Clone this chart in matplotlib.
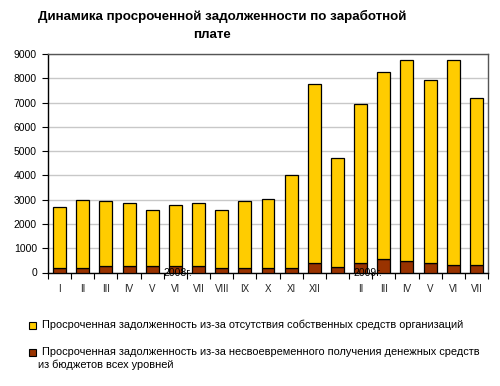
import matplotlib
matplotlib.use("Agg")
import matplotlib.pyplot as plt
import numpy as np

plt.rcParams['font.family'] = ['Liberation Sans', 'DejaVu Sans']

months = ["I", "II", "III", "IV", "V", "VI", "VII", "VIII", "IX", "X", "XI", "XII",
          "", "II", "III", "IV", "V", "VI", "VII"]
totals = [2700, 3000, 2930, 2880, 2590, 2790, 2850, 2590, 2930, 3020, 4000, 7780,
          4700, 6960, 8260, 8750, 7920, 8750, 7200]
budget = [190, 190, 250, 260, 260, 250, 260, 165, 165, 190, 190, 410,
          230, 410, 550, 490, 410, 300, 300]
own = [t - b for t, b in zip(totals, budget)]
years = ["2008г.", "2009г."]
year_pos = [5.1, 13.3]
title = "Динамика просроченной задолженности по заработной\nплате"
legend_labels = ["Просроченная задолженность из-за отсутствия собственных средств организаций",
                 "Просроченная задолженность из-за несвоевременного получения денежных средств\nиз бюджетов всех уровней"]

W, H = 500, 386
fig = plt.figure(figsize=(W / 100, H / 100), dpi=100)
ax = fig.add_axes([48 / W, 1 - 272.5 / H, 440 / W, 218.5 / H])

x = np.arange(len(months))
yellow = "#FFCC00"
brown = "#993300"
ax.bar(x, budget, width=0.56, color=brown, edgecolor="black", linewidth=0.9, zorder=3)
ax.bar(x, own, bottom=budget, width=0.56, color=yellow, edgecolor="black", linewidth=0.9, zorder=3)

ax.set_xlim(-0.5, len(months) - 0.5)
ax.set_ylim(0, 9000)
ax.set_yticks(np.arange(0, 9001, 1000))
ax.set_yticklabels([str(v) for v in range(0, 9001, 1000)], fontsize=7.5)
ax.yaxis.grid(True, color="#c8c8c8", linewidth=1, zorder=0)
ax.set_axisbelow(True)

ax.set_xticks(x)
ax.set_xticklabels(months, fontsize=7, color="#222222")
ax.tick_params(axis="x", length=0, pad=8)
ax.set_xticks(np.arange(-0.5, len(months), 1), minor=True)
ax.tick_params(axis="x", which="minor", length=4, width=0.8, direction="out")
ax.tick_params(axis="y", length=4, width=0.8, pad=4)

for s in ["left", "bottom"]:
    ax.spines[s].set_color("black")
    ax.spines[s].set_linewidth(1)
for s in ["top", "right"]:
    ax.spines[s].set_color("#555555")
    ax.spines[s].set_linewidth(1)

for yp, yl in zip(year_pos, years):
    ax.text(yp, 0, yl, ha="center", va="center", fontsize=7.5, zorder=5)

fig.text(222 / W, 1 - 16 / H, title.split("\n")[0], ha="center", va="center",
         fontsize=9.6, fontweight="bold")
fig.text(212 / W, 1 - 35 / H, title.split("\n")[1], ha="center", va="center",
         fontsize=9.6, fontweight="bold")

# legend
from matplotlib.patches import Rectangle
for (ly, lbl, col) in [(325, legend_labels[0], yellow), (352, legend_labels[1].split("\n")[0], brown)]:
    fig.patches.append(Rectangle(((29) / W, 1 - (ly + 3.5) / H), 7 / W, 7 / H,
                                 transform=fig.transFigure, facecolor=col,
                                 edgecolor="black", linewidth=0.8))
    fig.text(42 / W, 1 - ly / H, lbl, ha="left", va="center", fontsize=7.9)
fig.text(38 / W, 1 - 365 / H, legend_labels[1].split("\n")[1], ha="left", va="center", fontsize=7.9)

fig.savefig("out.png", dpi=100)
